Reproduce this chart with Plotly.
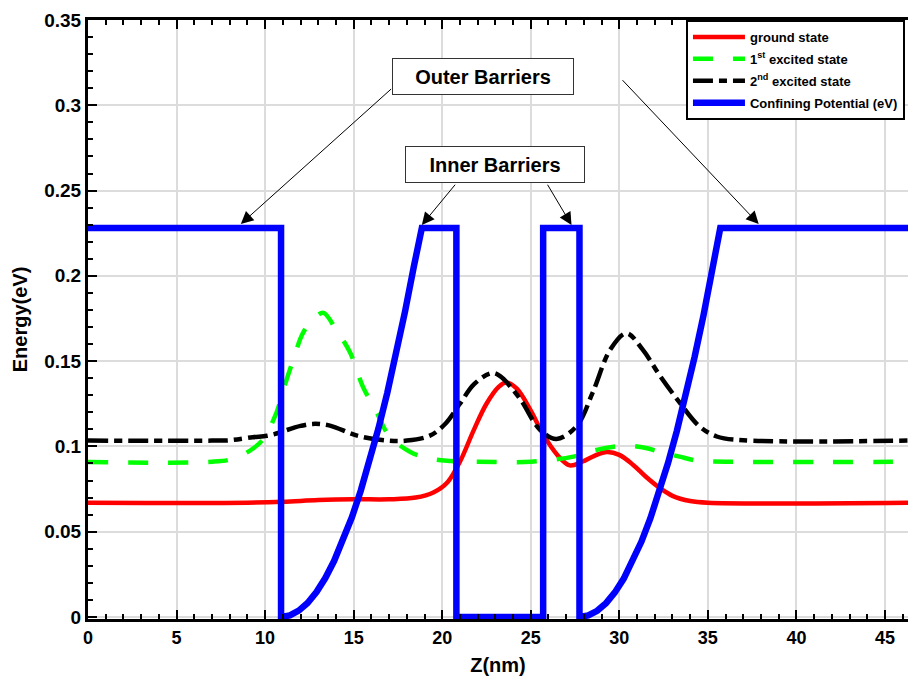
import plotly.graph_objects as go

# ---- data ----
z_pot = [0, 10.9, 10.9, 11.4, 11.9, 12.4, 12.9, 13.4, 13.9, 14.4, 14.9, 15.4, 15.9, 16.4, 16.9,
         17.4, 17.9, 18.4, 18.85, 20.8, 20.8, 25.7, 25.7, 27.75, 27.75, 28.25, 28.75, 29.25,
         29.75, 30.25, 30.75, 31.25, 31.75, 32.25, 32.75, 33.25, 33.75, 34.25, 34.75, 35.25,
         35.7, 46.3]
v_pot = [0.228, 0.228, 0, 0.0009, 0.0037, 0.0082, 0.0146, 0.0228, 0.0329, 0.0447, 0.0584,
         0.074, 0.0913, 0.1105, 0.1315, 0.1543, 0.179, 0.2055, 0.228, 0.228, 0, 0, 0.228, 0.228,
         0, 0.0009, 0.0036, 0.0081, 0.0144, 0.0225, 0.0325, 0.0442, 0.0577, 0.073, 0.0902,
         0.1091, 0.1299, 0.1524, 0.1767, 0.2029, 0.228, 0.228]

z_gs = [0, 9, 11, 13, 15, 17, 18.5, 19.5, 20.3, 21, 21.8, 22.5, 23.2, 23.6, 24.2, 25, 25.7,
        26.5, 27.2, 27.9, 28.6, 29.3, 30, 30.8, 31.5, 32.3, 33, 34, 35, 46.3]
e_gs = [0.067, 0.067, 0.0675, 0.0685, 0.069, 0.069, 0.070, 0.073, 0.079, 0.091, 0.110, 0.125,
        0.135, 0.1375, 0.134, 0.121, 0.107, 0.095, 0.0889, 0.091, 0.0945, 0.0967, 0.095, 0.089,
        0.0822, 0.0755, 0.071, 0.068, 0.067, 0.067]

z_e1 = [0, 7, 8.2, 9.3, 9.9, 10.65, 11.1, 11.6, 12.15, 12.9, 13.3, 14.0, 14.8, 15.5, 16.3, 17.0,
        18.2, 19.3, 20.5, 22, 25, 27.4, 28.5, 30.2, 31.3, 32.3, 33.4, 34.4, 36, 46.3]
e_e1 = [0.0908, 0.091, 0.0928, 0.0986, 0.1044, 0.120, 0.1355, 0.151, 0.1667, 0.1764, 0.1783,
        0.1686, 0.155, 0.1355, 0.120, 0.1063, 0.0967, 0.0928, 0.0915, 0.091, 0.091, 0.094,
        0.0975, 0.1003, 0.0995, 0.0968, 0.094, 0.0916, 0.091, 0.091]

z_e2 = [0, 7, 8.0, 9.3, 10.1, 10.8, 11.2, 12.0, 12.7, 13.66, 15.2, 16.9, 18.0, 19.3, 20.15, 21,
        21.8, 22.8, 23.25, 24.4, 25.5, 26.45, 27.6, 28.5, 29.5, 30.4, 31.3, 32.3, 33.4, 34.5,
        35.5, 37, 46.3]
e_e2 = [0.1034, 0.1034, 0.1036, 0.1054, 0.1062, 0.108, 0.1095, 0.112, 0.1132, 0.1122, 0.1063,
        0.1034, 0.1034, 0.1063, 0.113, 0.125, 0.1365, 0.143, 0.1413, 0.1278, 0.110, 0.1044,
        0.112, 0.1317, 0.157, 0.1663, 0.157, 0.1413, 0.1258, 0.112, 0.1058, 0.1036, 0.1034]

x_ticks = [0, 5, 10, 15, 20, 25, 30, 35, 40, 45]
y_ticks = [0, 0.05, 0.1, 0.15, 0.2, 0.25, 0.3, 0.35]
y_labels = ["0", "0.05", "0.1", "0.15", "0.2", "0.25", "0.3", "0.35"]

names = ["ground state", "1<sup>st</sup> excited state", "2<sup>nd</sup> excited state",
         "Confining Potential (eV)"]

FONT = "Liberation Sans, Arial, sans-serif"

fig = go.Figure()
fig.add_trace(go.Scatter(x=z_gs, y=e_gs, mode="lines", name=names[0], legendgroup="a",
                         line=dict(color="#ff0000", width=4.5, shape="spline")))
fig.add_trace(go.Scatter(x=z_e1, y=e_e1, mode="lines", name=names[1], legendgroup="b",
                         line=dict(color="#00ff00", width=4.5, shape="spline", dash="20px,20px")))
fig.add_trace(go.Scatter(x=z_e2, y=e_e2, mode="lines", name=names[2], legendgroup="c",
                         line=dict(color="#000000", width=4.5, shape="spline",
                                   dash="20px,6px,8px,6px")))
fig.add_trace(go.Scatter(x=z_pot, y=v_pot, mode="lines", name=names[3], legendgroup="d",
                         line=dict(color="#0000ff", width=6.5)))

# annotation boxes
box_font = dict(family=FONT, size=20, color="black", weight="bold")
fig.add_annotation(x=22.29, y=0.317, xref="x", yref="y", text="Outer Barriers", showarrow=False,
                   font=box_font, bordercolor="#333", borderwidth=1, borderpad=0,
                   width=180, height=35, bgcolor="white")
fig.add_annotation(x=22.97, y=0.2652, xref="x", yref="y", text="Inner Barriers", showarrow=False,
                   font=box_font, bordercolor="#333", borderwidth=1, borderpad=0,
                   width=178, height=35, bgcolor="white")

arrows = [((8.63, 0.2304), (17.2, 0.3103)),
          ((37.87, 0.2304), (30.1, 0.3156)),
          ((18.85, 0.2298), (20.8, 0.2543)),
          ((27.3, 0.2298), (25.9, 0.2543))]
for (hx, hy), (tx, ty) in arrows:
    fig.add_annotation(x=hx, y=hy, ax=tx, ay=ty, xref="x", yref="y", axref="x", ayref="y",
                       text="", showarrow=True, arrowhead=2, arrowsize=2.5, arrowwidth=1,
                       arrowcolor="black", standoff=0, startstandoff=0)

fig.update_layout(
    width=908, height=682,
    margin=dict(l=88, r=0, t=20, b=63),
    paper_bgcolor="white", plot_bgcolor="white",
    font=dict(family=FONT, color="black"),
    legend=dict(x=0.9963, y=1.0, xanchor="right", yanchor="top",
                bgcolor="white", bordercolor="black", borderwidth=2,
                font=dict(family=FONT, size=13, color="black", weight="bold"),
                itemwidth=52, tracegroupgap=2, traceorder="grouped"),
    showlegend=True,
)
fig.update_xaxes(range=[0, 46.3], tickvals=x_ticks, ticktext=[str(t) for t in x_ticks],
                 ticks="inside", ticklen=9, tickwidth=2, tickcolor="black",
                 showline=True, linewidth=3, linecolor="black", mirror="ticks",
                 showgrid=True, gridcolor="#dcdcdc", gridwidth=2, zeroline=False,
                 minor=dict(dtick=1, ticks="inside", ticklen=5, tickwidth=2, tickcolor="black",
                            showgrid=False),
                 tickfont=dict(family=FONT, size=18, color="black", weight="bold"),
                 title=dict(text="Z(nm)", standoff=12,
                            font=dict(family=FONT, size=20, color="black", weight="bold")))
fig.update_yaxes(range=[-0.0012, 0.35], tickvals=y_ticks, ticktext=y_labels,
                 ticks="inside", ticklen=9, tickwidth=2, tickcolor="black",
                 showline=True, linewidth=3, linecolor="black", mirror=False,
                 showgrid=True, gridcolor="#dcdcdc", gridwidth=2, zeroline=False,
                 minor=dict(dtick=0.01, tick0=0, ticks="inside", ticklen=5, tickwidth=2,
                            tickcolor="black", showgrid=False),
                 tickfont=dict(family=FONT, size=19, color="black", weight="bold"),
                 title=dict(text="Energy(eV)", standoff=12,
                            font=dict(family=FONT, size=20, color="black", weight="bold")))

fig.write_html("out.html")
